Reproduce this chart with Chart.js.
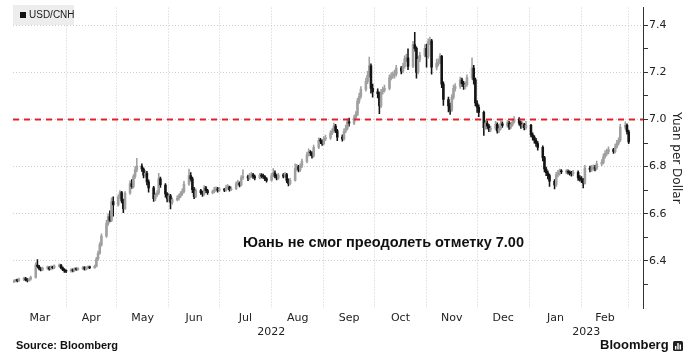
<!DOCTYPE html>
<html><head><meta charset="utf-8">
<script src="https://cdn.jsdelivr.net/npm/chart.js@4.4.1/dist/chart.umd.min.js"></script>
<style>
html,body{margin:0;padding:0;background:#fff;}
#wrap{position:relative;width:700px;height:357px;overflow:hidden;background:#fff;}
#c{position:absolute;left:0;top:0;}
.ov{position:absolute;white-space:nowrap;color:#1a1a1a;}
#legend{left:13px;top:5px;width:61px;height:20px;background:#ededed;font:10px "Liberation Sans",Arial,sans-serif;line-height:20px;}
#legend span.sq{position:absolute;left:7px;top:7px;width:6px;height:6px;background:#111;}
#legend span.tx{position:absolute;left:16px;top:0;}
#note{left:243px;top:234px;font:bold 14.5px "Liberation Sans",Arial,sans-serif;color:#111;}
#src{left:16px;top:339px;font:bold 11px "Liberation Sans",Arial,sans-serif;color:#111;}
#brand{left:600px;top:337px;font:bold 13px "Liberation Sans",Arial,sans-serif;color:#111;}
#logo{position:absolute;left:673px;top:341px;}
</style></head><body>
<div id="wrap">
<canvas id="c" width="700" height="357"></canvas>
<div class="ov" id="legend"><span class="sq"></span><span class="tx">USD/CNH</span></div>
<div class="ov" id="note">Юань не смог преодолеть отметку 7.00</div>
<div class="ov" id="src">Source: Bloomberg</div>
<div class="ov" id="brand">Bloomberg</div>
<svg id="logo" width="10" height="10" viewBox="0 0 10 10"><rect x="0" y="0" width="10" height="10" rx="1.5" fill="#222"/><rect x="2" y="5" width="1.4" height="3.5" fill="#fff"/><rect x="4.3" y="2" width="1.4" height="6.5" fill="#fff"/><rect x="6.6" y="3.5" width="1.4" height="5" fill="#fff"/></svg>
</div>
<script>
// ---------- data (USD/CNH daily candles) ----------
const dates = [
'2022-03-01','2022-03-02','2022-03-03','2022-03-04','2022-03-07','2022-03-08','2022-03-09','2022-03-10','2022-03-11','2022-03-14','2022-03-15','2022-03-16','2022-03-17','2022-03-18','2022-03-21','2022-03-22','2022-03-23','2022-03-24','2022-03-25','2022-03-28','2022-03-29','2022-03-30','2022-03-31',
'2022-04-01','2022-04-04','2022-04-05','2022-04-06','2022-04-07','2022-04-08','2022-04-11','2022-04-12','2022-04-13','2022-04-14','2022-04-15','2022-04-18','2022-04-19','2022-04-20','2022-04-21','2022-04-22','2022-04-25','2022-04-26','2022-04-27','2022-04-28','2022-04-29',
'2022-05-02','2022-05-03','2022-05-04','2022-05-05','2022-05-06','2022-05-09','2022-05-10','2022-05-11','2022-05-12','2022-05-13','2022-05-16','2022-05-17','2022-05-18','2022-05-19','2022-05-20','2022-05-23','2022-05-24','2022-05-25','2022-05-26','2022-05-27','2022-05-30','2022-05-31',
'2022-06-01','2022-06-02','2022-06-03','2022-06-06','2022-06-07','2022-06-08','2022-06-09','2022-06-10','2022-06-13','2022-06-14','2022-06-15','2022-06-16','2022-06-17','2022-06-20','2022-06-21','2022-06-22','2022-06-23','2022-06-24','2022-06-27','2022-06-28','2022-06-29','2022-06-30',
'2022-07-01','2022-07-04','2022-07-05','2022-07-06','2022-07-07','2022-07-08','2022-07-11','2022-07-12','2022-07-13','2022-07-14','2022-07-15','2022-07-18','2022-07-19','2022-07-20','2022-07-21','2022-07-22','2022-07-25','2022-07-26','2022-07-27','2022-07-28','2022-07-29',
'2022-08-01','2022-08-02','2022-08-03','2022-08-04','2022-08-05','2022-08-08','2022-08-09','2022-08-10','2022-08-11','2022-08-12','2022-08-15','2022-08-16','2022-08-17','2022-08-18','2022-08-19','2022-08-22','2022-08-23','2022-08-24','2022-08-25','2022-08-26','2022-08-29','2022-08-30','2022-08-31',
'2022-09-01','2022-09-02','2022-09-05','2022-09-06','2022-09-07','2022-09-08','2022-09-09','2022-09-12','2022-09-13','2022-09-14','2022-09-15','2022-09-16','2022-09-19','2022-09-20','2022-09-21','2022-09-22','2022-09-23','2022-09-26','2022-09-27','2022-09-28','2022-09-29','2022-09-30',
'2022-10-03','2022-10-04','2022-10-05','2022-10-06','2022-10-07','2022-10-10','2022-10-11','2022-10-12','2022-10-13','2022-10-14','2022-10-17','2022-10-18','2022-10-19','2022-10-20','2022-10-21','2022-10-24','2022-10-25','2022-10-26','2022-10-27','2022-10-28','2022-10-31',
'2022-11-01','2022-11-02','2022-11-03','2022-11-04','2022-11-07','2022-11-08','2022-11-09','2022-11-10','2022-11-11','2022-11-14','2022-11-15','2022-11-16','2022-11-17','2022-11-18','2022-11-21','2022-11-22','2022-11-23','2022-11-24','2022-11-25','2022-11-28','2022-11-29','2022-11-30',
'2022-12-01','2022-12-02','2022-12-05','2022-12-06','2022-12-07','2022-12-08','2022-12-09','2022-12-12','2022-12-13','2022-12-14','2022-12-15','2022-12-16','2022-12-19','2022-12-20','2022-12-21','2022-12-22','2022-12-23','2022-12-26','2022-12-27','2022-12-28','2022-12-29','2022-12-30',
'2023-01-02','2023-01-03','2023-01-04','2023-01-05','2023-01-06','2023-01-09','2023-01-10','2023-01-11','2023-01-12','2023-01-13','2023-01-16','2023-01-17','2023-01-18','2023-01-19','2023-01-20','2023-01-23','2023-01-24','2023-01-25','2023-01-26','2023-01-27','2023-01-30','2023-01-31',
'2023-02-01','2023-02-02','2023-02-03','2023-02-06','2023-02-07','2023-02-08','2023-02-09','2023-02-10','2023-02-13','2023-02-14','2023-02-15','2023-02-16','2023-02-17','2023-02-20','2023-02-21','2023-02-22','2023-02-23','2023-02-24','2023-02-27','2023-02-28',
'2023-03-01'
];
const opens = [
6.312,6.315,6.318,6.316,6.322,6.325,6.320,6.317,6.322,6.330,6.382,6.376,6.368,6.362,6.369,6.372,6.366,6.374,6.371,6.378,6.382,6.371,6.363,
6.357,6.356,6.362,6.358,6.366,6.364,6.367,6.372,6.366,6.370,6.374,6.371,6.377,6.408,6.432,6.468,6.505,6.558,6.588,6.572,6.652,
6.638,6.672,6.690,6.655,6.622,6.688,6.728,6.716,6.758,6.786,6.802,6.790,6.764,6.772,6.735,6.710,6.664,6.680,6.688,6.748,6.722,6.684,
6.664,6.676,6.648,6.660,6.666,6.676,6.686,6.694,6.726,6.762,6.748,6.702,6.674,6.698,6.690,6.684,6.710,6.698,6.690,6.694,6.702,6.706,
6.700,6.702,6.700,6.712,6.714,6.702,6.706,6.728,6.730,6.722,6.752,6.758,6.752,6.762,6.766,6.758,6.752,6.764,6.760,6.758,6.748,
6.742,6.762,6.774,6.760,6.752,6.764,6.760,6.766,6.742,6.728,6.742,6.792,6.800,6.786,6.802,6.822,6.850,6.862,6.858,6.846,6.882,6.912,6.908,
6.898,6.918,6.922,6.942,6.952,6.972,6.952,6.925,6.918,6.950,6.962,6.990,6.985,7.008,7.022,7.078,7.098,7.128,7.162,7.188,7.228,7.132,
7.118,7.110,7.058,7.118,7.125,7.132,7.178,7.185,7.190,7.192,7.218,7.205,7.226,7.258,7.262,7.225,7.318,7.302,7.200,7.255,7.272,
7.302,7.268,7.330,7.334,7.222,7.238,7.246,7.268,7.150,7.085,7.058,7.040,7.095,7.132,7.140,7.168,7.152,7.140,7.148,7.178,7.218,7.168,
7.070,7.052,7.030,6.965,6.985,6.972,6.958,6.962,6.980,6.952,6.962,6.982,6.975,6.985,6.968,6.978,6.990,7.002,6.985,6.972,6.978,6.965,
6.975,6.935,6.925,6.912,6.898,6.882,6.838,6.790,6.774,6.762,6.738,6.722,6.765,6.772,6.780,6.778,6.780,6.776,6.772,6.770,6.776,6.752,
6.748,6.744,6.730,6.794,6.788,6.792,6.796,6.792,6.812,6.818,6.842,6.856,6.862,6.872,6.865,6.885,6.900,6.912,6.968,6.975,
6.948
];
const highs = [
6.320,6.322,6.323,6.327,6.331,6.330,6.325,6.327,6.336,6.392,6.405,6.381,6.372,6.374,6.378,6.376,6.379,6.378,6.383,6.388,6.385,6.375,6.367,
6.362,6.367,6.366,6.371,6.370,6.372,6.377,6.376,6.375,6.379,6.378,6.382,6.415,6.442,6.478,6.515,6.572,6.600,6.612,6.668,6.672,
6.680,6.698,6.695,6.662,6.694,6.740,6.745,6.766,6.800,6.835,6.812,6.795,6.784,6.780,6.744,6.716,6.688,6.698,6.772,6.756,6.728,6.690,
6.688,6.682,6.668,6.676,6.684,6.694,6.706,6.738,6.790,6.775,6.756,6.712,6.706,6.704,6.696,6.720,6.716,6.704,6.700,6.712,6.714,6.712,
6.712,6.708,6.722,6.724,6.718,6.714,6.736,6.742,6.736,6.762,6.786,6.764,6.772,6.776,6.772,6.764,6.772,6.770,6.768,6.762,6.754,
6.772,6.792,6.782,6.766,6.772,6.770,6.776,6.772,6.748,6.750,6.812,6.810,6.806,6.812,6.832,6.862,6.876,6.868,6.864,6.892,6.922,6.920,6.914,
6.928,6.934,6.952,6.962,6.985,6.980,6.958,6.935,6.960,6.976,7.002,7.006,7.018,7.034,7.090,7.112,7.140,7.176,7.205,7.265,7.236,7.150,
7.130,7.116,7.128,7.138,7.146,7.190,7.198,7.202,7.210,7.230,7.226,7.238,7.270,7.278,7.300,7.332,7.370,7.308,7.268,7.285,7.318,
7.320,7.342,7.350,7.340,7.256,7.258,7.280,7.272,7.160,7.095,7.070,7.106,7.146,7.152,7.180,7.176,7.162,7.160,7.190,7.262,7.230,7.176,
7.080,7.062,7.036,6.998,6.994,6.980,6.972,6.992,6.986,6.972,6.994,6.990,6.996,6.992,6.988,7.002,7.012,7.008,6.992,6.990,6.984,6.992,
6.980,6.944,6.932,6.920,6.906,6.888,6.844,6.798,6.782,6.768,6.745,6.776,6.784,6.790,6.788,6.788,6.786,6.782,6.780,6.784,6.782,6.762,
6.758,6.750,6.806,6.802,6.806,6.808,6.806,6.824,6.830,6.854,6.868,6.874,6.884,6.878,6.896,6.912,6.922,6.980,6.990,6.982,
6.955
];
const lows = [
6.308,6.311,6.311,6.312,6.316,6.315,6.311,6.313,6.318,6.327,6.370,6.362,6.357,6.358,6.364,6.361,6.362,6.366,6.367,6.373,6.366,6.358,6.351,
6.350,6.352,6.353,6.355,6.359,6.360,6.363,6.361,6.362,6.366,6.367,6.368,6.374,6.402,6.428,6.462,6.500,6.550,6.565,6.566,6.590,
6.632,6.664,6.646,6.605,6.618,6.682,6.708,6.710,6.750,6.778,6.780,6.752,6.755,6.722,6.692,6.652,6.656,6.672,6.682,6.712,6.670,6.650,
6.652,6.620,6.640,6.654,6.658,6.668,6.678,6.688,6.720,6.738,6.690,6.664,6.668,6.682,6.674,6.678,6.690,6.682,6.684,6.688,6.696,6.692,
6.694,6.694,6.696,6.704,6.696,6.698,6.702,6.720,6.714,6.718,6.746,6.740,6.746,6.754,6.750,6.744,6.748,6.752,6.750,6.740,6.734,
6.738,6.756,6.752,6.744,6.746,6.752,6.754,6.732,6.718,6.722,6.738,6.784,6.778,6.780,6.796,6.816,6.844,6.848,6.836,6.840,6.876,6.898,6.890,
6.892,6.910,6.916,6.936,6.946,6.944,6.910,6.908,6.912,6.944,6.956,6.972,6.978,7.000,7.016,7.068,7.090,7.120,7.152,7.180,7.112,7.095,
7.092,7.025,7.050,7.108,7.116,7.126,7.168,7.174,7.176,7.184,7.194,7.198,7.218,7.246,7.212,7.220,7.290,7.175,7.194,7.246,7.266,
7.222,7.260,7.318,7.192,7.210,7.228,7.236,7.135,7.060,7.032,7.022,7.034,7.086,7.120,7.132,7.140,7.128,7.130,7.140,7.170,7.150,7.058,
7.030,7.012,6.932,6.958,6.962,6.948,6.948,6.955,6.942,6.944,6.956,6.966,6.968,6.958,6.960,6.972,6.984,6.976,6.962,6.964,6.956,6.958,
6.926,6.912,6.900,6.886,6.870,6.824,6.778,6.762,6.748,6.716,6.705,6.716,6.756,6.764,6.770,6.770,6.768,6.764,6.760,6.762,6.742,6.738,
6.732,6.710,6.726,6.778,6.780,6.784,6.782,6.786,6.804,6.812,6.836,6.848,6.854,6.856,6.858,6.878,6.892,6.906,6.958,6.938,
6.898
];
const closes = [
6.315,6.318,6.316,6.322,6.325,6.320,6.317,6.322,6.330,6.382,6.376,6.368,6.362,6.369,6.372,6.366,6.374,6.371,6.378,6.382,6.371,6.363,6.357,
6.356,6.362,6.358,6.366,6.364,6.367,6.372,6.366,6.370,6.374,6.371,6.377,6.408,6.432,6.468,6.505,6.558,6.588,6.572,6.652,6.638,
6.672,6.690,6.655,6.622,6.688,6.728,6.716,6.758,6.786,6.802,6.790,6.764,6.772,6.735,6.710,6.664,6.680,6.688,6.748,6.722,6.684,6.664,
6.676,6.648,6.660,6.666,6.676,6.686,6.694,6.726,6.762,6.748,6.702,6.674,6.698,6.690,6.684,6.710,6.698,6.690,6.694,6.702,6.706,6.700,
6.702,6.700,6.712,6.714,6.702,6.706,6.728,6.730,6.722,6.752,6.758,6.752,6.762,6.766,6.758,6.752,6.764,6.760,6.758,6.748,6.742,
6.762,6.774,6.760,6.752,6.764,6.760,6.766,6.742,6.728,6.742,6.792,6.800,6.786,6.802,6.822,6.850,6.862,6.858,6.846,6.882,6.912,6.908,6.898,
6.918,6.922,6.942,6.952,6.972,6.952,6.925,6.918,6.950,6.962,6.990,6.985,7.008,7.022,7.078,7.098,7.128,7.162,7.188,7.228,7.132,7.118,
7.110,7.058,7.118,7.125,7.132,7.178,7.185,7.190,7.192,7.218,7.205,7.226,7.258,7.262,7.225,7.318,7.302,7.200,7.255,7.272,7.302,
7.268,7.330,7.334,7.222,7.238,7.246,7.268,7.150,7.085,7.058,7.040,7.095,7.132,7.140,7.168,7.152,7.140,7.148,7.178,7.218,7.168,7.070,
7.052,7.030,6.965,6.985,6.972,6.958,6.962,6.980,6.952,6.962,6.982,6.975,6.985,6.968,6.978,6.990,7.002,6.985,6.972,6.978,6.965,6.975,
6.935,6.925,6.912,6.898,6.882,6.838,6.790,6.774,6.762,6.738,6.722,6.765,6.772,6.780,6.778,6.780,6.776,6.772,6.770,6.776,6.752,6.748,
6.744,6.730,6.794,6.788,6.792,6.796,6.792,6.812,6.818,6.842,6.856,6.862,6.872,6.865,6.885,6.900,6.912,6.968,6.975,6.948,
6.905
];
const threshold = 7.0;
const monthStarts = ['2022-03-01','2022-04-01','2022-05-01','2022-06-01','2022-07-01','2022-08-01','2022-09-01','2022-10-01','2022-11-01','2022-12-01','2023-01-01','2023-02-01','2023-03-01'];
const monthNames = ['Mar','Apr','May','Jun','Jul','Aug','Sep','Oct','Nov','Dec','Jan','Feb'];
const yearStarts = ['2022-01-01','2023-01-01','2024-01-01'];
const yearNames = ['2022','2023'];
const yLabelTicks = [6.4,6.6,6.8,7.0,7.2,7.4];
const yMinorTicks = [6.3,6.5,6.7,6.9,7.1,7.3];

// ---------- helpers ----------
const DAY0 = Date.UTC(2022,2,1);
function dayNum(s){const p=s.split('-').map(Number);return (Date.UTC(p[0],p[1]-1,p[2])-DAY0)/864e5;}
const X_MIN = -0.5, X_MAX = 373.5;
const isUp = i => closes[i] >= opens[i];
const UP = '#a0a0a0', DOWN = '#141414';

const gridTicks = monthStarts.slice(1).map(dayNum);
const labelTicks = [];
for (let i=0;i<monthNames.length;i++){
  labelTicks.push({value:(dayNum(monthStarts[i])+dayNum(monthStarts[i+1]))/2, label:monthNames[i]});
}
for (let i=0;i<yearNames.length;i++){
  const a=Math.max(dayNum(yearStarts[i]),X_MIN), b=Math.min(dayNum(yearStarts[i+1]),X_MAX);
  labelTicks.push({value:(a+b)/2, label:['',yearNames[i]]});
}
const yAll = yLabelTicks.concat(yMinorTicks).sort((a,b)=>a-b);
const isMajor = v => yLabelTicks.some(t=>Math.abs(t-v)<1e-6);

const wickData = dates.map((d,i)=>({x:dayNum(d), y:[lows[i],highs[i]]}));
const bodyData = dates.map((d,i)=>({x:dayNum(d), y:[opens[i],closes[i]]}));

const AX_FONT = {family:'DejaVu Sans', size:11};

new Chart(document.getElementById('c'), {
  type:'bar',
  data:{datasets:[
    {type:'line', data:[{x:X_MIN,y:threshold},{x:X_MAX,y:threshold}], borderColor:'#e3212b', borderWidth:1.8, borderDash:[6,5], pointRadius:0, order:0, xAxisID:'x', yAxisID:'y'},
    {data:bodyData, grouped:false, barThickness:1.9, minBarLength:1, backgroundColor:c=>isUp(c.dataIndex)?UP:DOWN, order:1, xAxisID:'x', yAxisID:'y'},
    {data:wickData, grouped:false, barThickness:0.9, backgroundColor:c=>isUp(c.dataIndex)?UP:DOWN, order:2, xAxisID:'x', yAxisID:'y'}
  ]},
  options:{
    responsive:false, animation:false,
    layout:{padding:{left:13, top:5, right:0, bottom:0}},
    plugins:{legend:{display:false}, tooltip:{enabled:false}},
    scales:{
      x:{type:'linear', position:'bottom', min:X_MIN, max:X_MAX, offset:false,
         grid:{color:'#cdcdcd', drawTicks:false, lineWidth:1, offset:false},
         border:{display:false, dash:[1,2]},
         ticks:{display:false},
         afterBuildTicks:s=>{s.ticks=gridTicks.map(v=>({value:v}));},
         afterFit:s=>{s.height=0;}},
      xl:{type:'linear', position:'bottom', min:X_MIN, max:X_MAX, offset:false,
         grid:{display:false, drawTicks:false, offset:false}, border:{display:false},
         ticks:{autoSkip:false, maxRotation:0, minRotation:0, padding:4, font:AX_FONT, color:'#222',
                callback:(v,i)=>labelTicks[i]?labelTicks[i].label:''},
         afterBuildTicks:s=>{s.ticks=labelTicks.map(t=>({value:t.value}));},
         afterFit:s=>{s.height=49;}},
      y:{position:'right', min:6.2, max:7.475,
         grid:{color:c=>isMajor(c.tick.value)?'#cdcdcd':'rgba(0,0,0,0)', tickColor:'#333', tickLength:5, lineWidth:1},
         border:{display:true, color:'#333', width:1, dash:[1,2]},
         ticks:{padding:1, font:AX_FONT, color:'#222', callback:v=>isMajor(v)?v.toFixed(1):''},
         afterBuildTicks:s=>{s.ticks=yAll.map(v=>({value:v}));},
         title:{display:true, text:'Yuan per Dollar', font:{family:'DejaVu Sans', size:12}, color:'#222', padding:{top:17,bottom:0}},
         afterFit:s=>{s.width=57;}}
    }
  }
});
</script>
</body></html>
